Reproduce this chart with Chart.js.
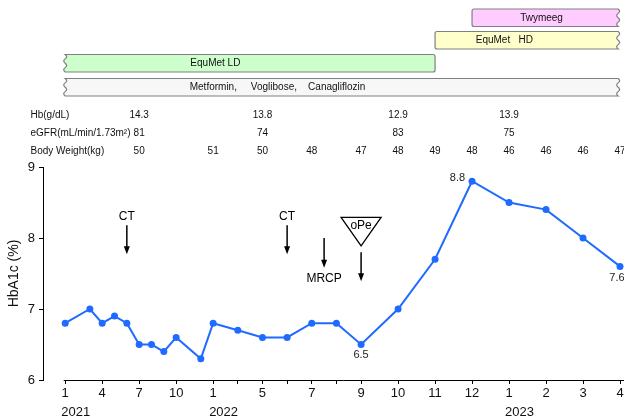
<!DOCTYPE html>
<html>
<head>
<meta charset="utf-8">
<script src="https://cdn.jsdelivr.net/npm/chart.js@4.4.1/dist/chart.umd.min.js"></script>
<style>
  html, body { margin: 0; padding: 0; background: #fff; }
</style>
</head>
<body>
<canvas id="c" width="624" height="420"></canvas>
<script>
// months counted from Jan 2021 (0 = 2021/1, 12 = 2022/1, 24 = 2023/1)
const hba1cMonths = [0, 2, 3, 4, 5, 6, 7, 8, 9, 11, 12, 14, 16, 17, 18, 19, 20, 21, 22, 23, 24, 25, 26, 27];
const hba1cValues = [6.8, 7.0, 6.8, 6.9, 6.8, 6.5, 6.5, 6.4, 6.6, 6.3, 6.8, 6.7, 6.6, 6.6, 6.8, 6.8, 6.5, 7.0, 7.7, 8.8, 8.5, 8.4, 8.0, 7.6];
const labelledMonths = [20, 23, 27];

const xTickMonths = [0, 3, 6, 9, 12, 14, 16, 17, 18, 19, 20, 21, 22, 23, 24, 25, 26, 27];
const xTickLabels = ['1', '4', '7', '10', '1', '', '5', '', '7', '', '9', '10', '11', '12', '1', '2', '3', '4'];
const yearMonths = [0, 12, 24];
const yearLabels = ['2021', '2022', '2023'];
const yTicks = [6, 7, 8, 9];

const hbMonths = [6, 16, 21, 24];
const hbValues = ['14.3', '13.8', '12.9', '13.9'];
const egfrMonths = [6, 16, 21, 24];
const egfrValues = ['81', '74', '83', '75'];
const weightMonths = [6, 12, 16, 18, 20, 21, 22, 23, 24, 25, 26, 27];
const weightValues = ['50', '51', '50', '48', '47', '48', '49', '48', '46', '46', '46', '47'];

const drugNames = ['Twymeeg', 'EquMet   HD', 'EquMet LD', 'Metformin,     Voglibose,    Canagliflozin'];
const drugStart = [23, 22, 0, 0];
const drugEnd = [26.95, 26.95, 22, 26.95];

const eventNames = ['CT', 'CT', 'MRCP', 'oPe'];
const eventMonths = [5, 17, 18.5, 20];

// layout / style
const FONT = '"Liberation Sans", Arial, Helvetica, sans-serif';
const BLUE = '#1f6bff';
const drugFill = ['#ffccff', '#ffffcc', '#ccffcc', '#f7f7f7'];
const drugWaveLeft = [false, false, true, true];
const drugWaveRight = [true, true, false, true];
const drugRowTop = [9, 31.5, 54.5, 78.5];
const drugRowHeight = 17.5;
const drugLabelMonth = [24.3, 23.1, 10.15, 10.1];
const tableRowY = [115, 133.5, 151.5];
const tableRowNames = ['Hb(g/dL)', 'eGFR(mL/min/1.73m\u00B2)', 'Body Weight(kg)'];

// axis pitch: 1 unit per month until 2022/5, 2 until 2022/9, then 3
function toUnits(m) {
  if (m <= 16) return m;
  if (m <= 20) return 16 + (m - 16) * 2;
  return 24 + (m - 20) * 3;
}
function fromUnits(u) {
  if (u <= 16) return u;
  if (u <= 24) return 16 + (u - 16) / 2;
  return 20 + (u - 24) / 3;
}

class SegmentedScale extends Chart.LinearScale {
  getPixelForValue(value) {
    if (value === null || isNaN(value)) return NaN;
    const a = toUnits(this.min), b = toUnits(this.max);
    return this.getPixelForDecimal((toUnits(value) - a) / (b - a));
  }
  getValueForPixel(pixel) {
    const a = toUnits(this.min), b = toUnits(this.max);
    return fromUnits(a + this.getDecimalForPixel(pixel) * (b - a));
  }
}
SegmentedScale.id = 'segmented';
SegmentedScale.defaults = Chart.LinearScale.defaults;
Chart.register(SegmentedScale);

function barPath(ctx, x0, x1, y0, y1, waveL, waveR) {
  const r = 2, n = 4, a = 3, h = (y1 - y0) / n;
  ctx.beginPath();
  ctx.moveTo(x0 + (waveL ? 0 : r), y0);
  if (waveR) {
    ctx.lineTo(x1, y0);
    for (let i = 0; i < n; i++) ctx.quadraticCurveTo(x1 + (i % 2 ? -a : a), y0 + (i + 0.5) * h, x1, y0 + (i + 1) * h);
  } else {
    ctx.arcTo(x1, y0, x1, y1, r);
    ctx.arcTo(x1, y1, x0, y1, r);
  }
  if (waveL) {
    ctx.lineTo(x0, y1);
    for (let i = 0; i < n; i++) ctx.quadraticCurveTo(x0 + (i % 2 ? a : -a), y1 - (i + 0.5) * h, x0, y1 - (i + 1) * h);
  } else {
    ctx.arcTo(x0, y1, x0, y0, r);
    ctx.arcTo(x0, y0, x1, y0, r);
  }
  ctx.closePath();
}

function arrow(ctx, x, yTop, yTip) {
  ctx.beginPath();
  ctx.moveTo(x, yTop);
  ctx.lineTo(x, yTip - 5);
  ctx.stroke();
  ctx.beginPath();
  ctx.moveTo(x - 3, yTip - 8);
  ctx.lineTo(x, yTip);
  ctx.lineTo(x + 3, yTip - 8);
  ctx.closePath();
  ctx.fill();
}

const extras = {
  id: 'extras',
  afterDraw(chart) {
    const ctx = chart.ctx, xs = chart.scales.x, ys = chart.scales.y;
    const X = m => xs.getPixelForValue(m);
    const Y = v => ys.getPixelForValue(v);
    ctx.save();

    // x axis line (starts at the first tick, offset from the y axis)
    ctx.strokeStyle = '#000';
    ctx.lineWidth = 1;
    ctx.beginPath();
    ctx.moveTo(X(0) - 1.5, chart.chartArea.bottom + 0.5);
    ctx.lineTo(chart.width, chart.chartArea.bottom + 0.5);
    ctx.stroke();

    // years under the month ticks
    ctx.fillStyle = '#111';
    ctx.font = '13px ' + FONT;
    ctx.textAlign = 'left';
    ctx.textBaseline = 'middle';
    yearMonths.forEach((m, i) => ctx.fillText(yearLabels[i], X(m) - 4, 412));

    // treatment bars
    drugNames.forEach((name, i) => {
      const y0 = drugRowTop[i], y1 = y0 + drugRowHeight;
      barPath(ctx, X(drugStart[i]), X(drugEnd[i]), y0, y1, drugWaveLeft[i], drugWaveRight[i]);
      ctx.fillStyle = drugFill[i];
      ctx.fill();
      ctx.strokeStyle = '#808080';
      ctx.lineWidth = 1.2;
      ctx.stroke();
      ctx.fillStyle = '#111';
      ctx.font = '10px ' + FONT;
      ctx.textAlign = 'left';
      ctx.fillText(name, X(drugLabelMonth[i]), (y0 + y1) / 2);
    });

    // lab table
    ctx.font = '10px ' + FONT;
    ctx.fillStyle = '#111';
    ctx.textAlign = 'left';
    tableRowNames.forEach((t, i) => ctx.fillText(t, 30.5, tableRowY[i]));
    ctx.textAlign = 'center';
    hbMonths.forEach((m, i) => ctx.fillText(hbValues[i], X(m), tableRowY[0]));
    egfrMonths.forEach((m, i) => ctx.fillText(egfrValues[i], X(m), tableRowY[1]));
    weightMonths.forEach((m, i) => ctx.fillText(weightValues[i], X(m), tableRowY[2]));

    // events
    ctx.strokeStyle = '#000';
    ctx.fillStyle = '#000';
    ctx.lineWidth = 1.5;
    ctx.font = '12px ' + FONT;
    ctx.textAlign = 'center';
    eventNames.forEach((name, i) => {
      const x = X(eventMonths[i]);
      if (name === 'CT') {
        ctx.fillText(name, x, Y(8.3));
        arrow(ctx, x, Y(8.18), Y(7.77));
      } else if (name === 'MRCP') {
        arrow(ctx, x, Y(8.0), Y(7.58));
        ctx.fillText(name, x, Y(7.43));
      } else {
        ctx.beginPath();
        ctx.moveTo(x - 20, Y(8.29));
        ctx.lineTo(x + 20, Y(8.29));
        ctx.lineTo(x, Y(7.89));
        ctx.closePath();
        ctx.fillStyle = '#fff';
        ctx.fill();
        ctx.lineWidth = 1.3;
        ctx.stroke();
        ctx.fillStyle = '#000';
        ctx.fillText(name, x, Y(8.18));
        ctx.lineWidth = 1.5;
        arrow(ctx, x, Y(7.8), Y(7.39));
      }
    });

    // value labels
    ctx.font = '11px ' + FONT;
    ctx.fillStyle = '#222';
    labelledMonths.forEach(m => {
      const v = hba1cValues[hba1cMonths.indexOf(m)];
      const px = X(m), py = Y(v);
      const txt = v.toFixed(1);
      if (m === 23) { ctx.textAlign = 'right'; ctx.fillText(txt, px - 7, py - 3); }
      else if (m === 20) { ctx.textAlign = 'center'; ctx.fillText(txt, px, py + 10.5); }
      else { ctx.textAlign = 'center'; ctx.fillText(txt, px - 3, py + 11.5); }
    });
    ctx.restore();
  }
};

new Chart(document.getElementById('c'), {
  type: 'line',
  data: {
    datasets: [{
      data: hba1cMonths.map((m, i) => ({ x: m, y: hba1cValues[i] })),
      borderColor: BLUE,
      backgroundColor: BLUE,
      borderWidth: 2,
      pointRadius: 3.5,
      pointBorderWidth: 0,
      tension: 0,
      clip: false
    }]
  },
  options: {
    responsive: false,
    animation: false,
    events: [],
    layout: { padding: { top: 167, right: 2, left: 0, bottom: 0 } },
    plugins: { legend: { display: false }, tooltip: { enabled: false } },
    scales: {
      x: {
        type: 'segmented',
        min: -1.8,
        max: 27,
        bounds: 'data',
        afterBuildTicks: s => { s.ticks = xTickMonths.map(v => ({ value: v })); },
        afterFit: s => { s.height = 40; s.paddingLeft = 0; s.paddingRight = 0; },
        grid: { drawOnChartArea: false, drawTicks: true, tickLength: 4, color: '#000', lineWidth: 1 },
        border: { display: false },
        ticks: {
          autoSkip: false,
          maxRotation: 0,
          padding: 2,
          color: '#111',
          font: { family: FONT, size: 13 },
          callback: (v, i) => xTickLabels[i]
        }
      },
      y: {
        min: 6,
        max: 9,
        afterBuildTicks: s => { s.ticks = yTicks.map(v => ({ value: v })); },
        afterFit: s => { s.width = 43; },
        grid: { drawOnChartArea: false, drawTicks: true, tickLength: 4, color: '#000', lineWidth: 1 },
        border: { display: true, color: '#000', width: 1 },
        ticks: { padding: 4, color: '#111', font: { family: FONT, size: 13 } },
        title: { display: true, text: 'HbA1c (%)', color: '#111', font: { family: FONT, size: 14 }, padding: { top: 6, bottom: 0 } }
      }
    }
  },
  plugins: [extras]
});
</script>
</body>
</html>
